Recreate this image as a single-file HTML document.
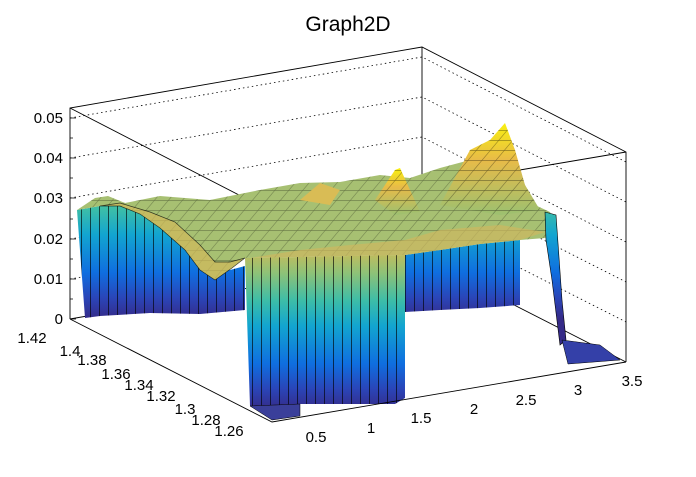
<!DOCTYPE html>
<html><head><meta charset="utf-8"><style>
body{margin:0;background:#fff;}
svg text{font-family:"Liberation Sans",sans-serif;font-size:15px;fill:#000;}
</style></head><body>
<svg width="696" height="472" viewBox="0 0 696 472" xmlns="http://www.w3.org/2000/svg">
<defs>
<linearGradient id="gz" gradientUnits="userSpaceOnUse" x1="0" y1="319" x2="0" y2="108">
<stop offset="0" stop-color="#352a87"/><stop offset="0.1" stop-color="#2a45b8"/><stop offset="0.22" stop-color="#0f6ee0"/><stop offset="0.4" stop-color="#12a5d0"/><stop offset="0.52" stop-color="#3cbda8"/><stop offset="0.65" stop-color="#8cc278"/><stop offset="0.8" stop-color="#e0b94e"/><stop offset="1" stop-color="#f9fb0e"/></linearGradient>
<linearGradient id="gm" gradientUnits="userSpaceOnUse" x1="0" y1="410" x2="0" y2="200">
<stop offset="0" stop-color="#352a87"/><stop offset="0.1" stop-color="#2a45b8"/><stop offset="0.22" stop-color="#0f6ee0"/><stop offset="0.4" stop-color="#12a5d0"/><stop offset="0.52" stop-color="#3cbda8"/><stop offset="0.65" stop-color="#8cc278"/><stop offset="0.8" stop-color="#e0b94e"/><stop offset="1" stop-color="#f9fb0e"/></linearGradient>
<linearGradient id="gp" x1="0" y1="1" x2="0" y2="0"><stop offset="0" stop-color="#9cc070"/><stop offset="0.6" stop-color="#e8bb48"/><stop offset="1" stop-color="#f9f010"/></linearGradient>
<pattern id="vl" width="9" height="10" patternUnits="userSpaceOnUse"><line x1="0.5" y1="0" x2="0.5" y2="10" stroke="#000" stroke-width="0.8"/></pattern>
<pattern id="mesh" width="14" height="10" patternUnits="userSpaceOnUse" patternTransform="skewX(-40)"><path d="M0 0.5H14M0.5 0V10" stroke="#000" stroke-width="0.6" fill="none"/></pattern>
</defs>
<text x="348" y="31" text-anchor="middle" style="font-size:21px">Graph2D</text>
<g stroke="#000" stroke-width="0.9" fill="none">
<path d="M70 319L70 108L422 47L626 152L626 362M422 47L422 258M70 108L272 212L626 152"/>
<path d="M70 319L422 258L626 362"/>
</g>
<g stroke="#000" stroke-width="0.8" stroke-dasharray="1.5,3" fill="none">
<path d="M70 279L422 218L626 322M70 239L422 178L626 282M70 198L422 137L626 242M70 158L422 97L626 202M70 118L422 57L626 162"/>
</g>
<!-- z ticks -->
<g stroke="#000" stroke-width="0.8">
<path d="M70 319h6M70 279h6M70 239h6M70 198h6M70 158h6M70 118h6M70 299h3M70 259h3M70 219h3M70 178h3M70 138h3"/>
</g>
<!-- left wall -->
<path d="M77 210L100 206L120 205L140 212L160 214L190 222L210 262L230 270L245 266L245 310L200 314L150 313L100 316L85 318Z" fill="url(#gz)"/>
<path d="M77 210L100 206L120 205L140 212L160 214L190 222L210 262L230 270L245 266L245 310L200 314L150 313L100 316L85 318Z" fill="url(#vl)" opacity="0.8"/>
<!-- right wall -->
<path d="M405 255L440 250L480 244L520 240L520 305L480 308L440 310L405 312Z" fill="url(#gz)"/>
<path d="M405 255L440 250L480 244L520 240L520 305L480 308L440 310L405 312Z" fill="url(#vl)" opacity="0.8"/>
<!-- top surface -->
<path d="M77 210L95 198L108 196L125 203L160 196L210 200L260 190L300 183L340 182L380 175L410 178L440 168L470 160L500 150L520 175L535 205L550 212L556 230L545 238L520 240L480 244L440 250L405 255L245 258L232 268L215 280L200 270L185 250L160 228L140 214L120 206L100 206Z" fill="#a7c072"/>
<path d="M77 210L95 198L108 196L125 203L160 196L210 200L260 190L300 183L340 182L380 175L410 178L440 168L470 160L500 150L520 175L535 205L550 212L556 230L545 238L520 240L480 244L440 250L405 255L245 258L232 268L215 280L200 270L185 250L160 228L140 214L120 206L100 206Z" fill="url(#mesh)" opacity="0.4"/>
<path d="M100 206L120 203L150 212L175 222L200 245L215 262L230 262L245 258L232 268L215 280L200 270L185 250L160 228L140 214L120 206Z" stroke="#000" stroke-width="0.7" fill="#d2ba5a" opacity="0.7"/>
<path d="M250 258L300 250L350 245L405 240L440 230L500 225L545 232L520 240L480 244L440 250L405 255Z" fill="#cdb860" opacity="0.7"/>
<!-- peaks -->
<path d="M440 205L470 150L490 140L505 123L515 150L525 185L540 210L500 215Z" fill="url(#gp)"/>
<path d="M440 205L470 150L490 140L505 123L515 150L525 185L540 210L500 215Z" fill="url(#mesh)" opacity="0.5"/>
<path d="M375 200L395 170L400 168L410 190L420 212L395 215Z" fill="url(#gp)"/>
<path d="M375 200L395 170L400 168L410 190L420 212L395 215Z" fill="url(#mesh)" opacity="0.5"/>
<path d="M300 200L320 183L340 190L330 205Z" fill="#d9bc55"/>
<!-- middle block -->
<path d="M245 258L300 257L350 256L405 255L405 398L395 404L300 404L250 406Z" fill="url(#gm)"/>
<path d="M245 258L300 257L350 256L405 255L405 398L395 404L300 404L250 406Z" fill="url(#vl)" opacity="0.8"/>
<path d="M250 406L300 404L300 416L272 420Z" fill="#3a3f9a" stroke="#000" stroke-width="0.5"/>
<!-- right drop -->
<path d="M545 212L556 215L562 300L566 340L560 345L552 280L546 240Z" fill="url(#gz)" stroke="#000" stroke-width="0.6"/>
<path d="M562 340L600 345L620 360L568 364Z" fill="#3440a8" stroke="#000" stroke-width="0.5"/>
<path d="M70 319L272 422L626 362" stroke="#000" stroke-width="0.9" fill="none"/>
<!-- z axis labels -->
<g text-anchor="end">
<text x="63" y="324">0</text><text x="63" y="284">0.01</text><text x="63" y="244">0.02</text><text x="63" y="203">0.03</text><text x="63" y="163">0.04</text><text x="63" y="123">0.05</text>
</g>
<text x="32" y="343" text-anchor="middle">1.42</text><text x="70" y="356" text-anchor="middle">1.4</text>
<text x="92" y="365" text-anchor="middle">1.38</text><text x="116" y="379" text-anchor="middle">1.36</text>
<text x="139" y="390" text-anchor="middle">1.34</text><text x="161" y="401" text-anchor="middle">1.32</text>
<text x="185" y="414" text-anchor="middle">1.3</text><text x="206" y="425" text-anchor="middle">1.28</text>
<text x="229" y="436" text-anchor="middle">1.26</text>
<text x="316" y="442" text-anchor="middle">0.5</text><text x="371" y="433" text-anchor="middle">1</text>
<text x="421" y="423" text-anchor="middle">1.5</text><text x="474" y="414" text-anchor="middle">2</text>
<text x="526" y="405" text-anchor="middle">2.5</text><text x="578" y="395" text-anchor="middle">3</text>
<text x="632" y="386" text-anchor="middle">3.5</text>
</svg>
</body></html>
